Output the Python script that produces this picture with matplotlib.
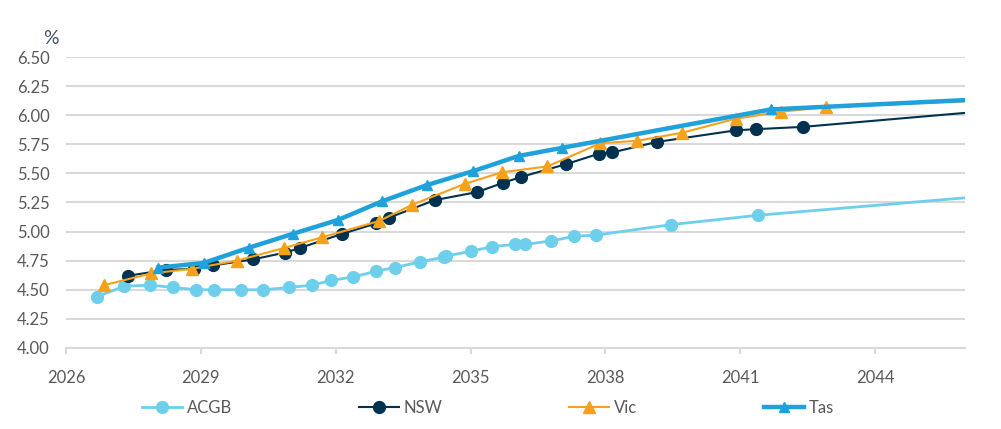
import matplotlib
matplotlib.use('Agg')
import matplotlib.pyplot as plt
from matplotlib.ticker import FuncFormatter

plt.rcParams['font.family'] = ['Lato', 'DejaVu Sans']

# Yield curve data (year, yield %). Last point of each series is the end of the curve (no marker)
acgb_x = [2026.69, 2027.29, 2027.87, 2028.38, 2028.90, 2029.30, 2029.90, 2030.39, 2030.97, 2031.48,
          2031.90, 2032.39, 2032.90, 2033.31, 2033.88, 2034.40, 2034.46, 2035.00, 2035.47, 2035.98,
          2036.22, 2036.80, 2037.31, 2037.80, 2039.47, 2041.39, 2046.0]
acgb_y = [4.44, 4.53, 4.54, 4.52, 4.50, 4.50, 4.50, 4.50, 4.52, 4.54,
          4.58, 4.61, 4.66, 4.69, 4.74, 4.78, 4.79, 4.83, 4.87, 4.89,
          4.89, 4.92, 4.96, 4.97, 5.06, 5.14, 5.29]

nsw_x = [2027.37, 2028.22, 2028.85, 2029.28, 2030.15, 2030.88, 2031.21, 2032.14, 2032.90, 2033.19,
         2034.20, 2035.15, 2035.73, 2036.13, 2037.13, 2037.86, 2038.15, 2039.14, 2040.90, 2041.34,
         2042.40, 2046.0]
nsw_y = [4.62, 4.67, 4.68, 4.71, 4.76, 4.82, 4.86, 4.98, 5.07, 5.12,
         5.27, 5.34, 5.42, 5.47, 5.58, 5.67, 5.68, 5.77, 5.87, 5.88,
         5.90, 6.02]

vic_x = [2026.85, 2027.89, 2028.80, 2029.80, 2030.86, 2031.69, 2032.96, 2033.70, 2034.87, 2035.70,
         2036.71, 2037.89, 2038.71, 2039.71, 2040.90, 2041.90, 2042.90, 2046.0]
vic_y = [4.54, 4.64, 4.68, 4.75, 4.86, 4.95, 5.09, 5.23, 5.41, 5.51,
         5.56, 5.76, 5.78, 5.85, 5.97, 6.03, 6.07, 6.12]

tas_x = [2028.05, 2029.06, 2030.06, 2031.04, 2032.05, 2033.03, 2034.03, 2035.06, 2036.07, 2037.04,
         2041.68, 2046.0]
tas_y = [4.69, 4.73, 4.86, 4.98, 5.10, 5.26, 5.40, 5.52, 5.65, 5.72,
         6.05, 6.13]

x_ticks = [2026, 2029, 2032, 2035, 2038, 2041, 2044]
y_ticks = [4.00, 4.25, 4.50, 4.75, 5.00, 5.25, 5.50, 5.75, 6.00, 6.25, 6.50]

grey_text = '#595959'

fig = plt.figure(figsize=(10.01, 4.29), dpi=100)
ax = fig.add_axes([0.066, 0.189, 0.898, 0.678])

# Plot each curve, markers on all but the end point
ax.plot(acgb_x, acgb_y, color='#6DCFEB', linewidth=2, marker='o', markersize=8.5,
        markevery=list(range(len(acgb_x) - 1)), label='ACGB', zorder=3)
ax.plot(nsw_x, nsw_y, color='#00324F', linewidth=1.5, marker='o', markersize=8.5,
        markevery=list(range(len(nsw_x) - 1)), label='NSW', zorder=4)
ax.plot(vic_x, vic_y, color='#F7A11A', linewidth=1.5, marker='^', markersize=9,
        markevery=list(range(len(vic_x) - 1)), label='Vic', zorder=5)
ax.plot(tas_x, tas_y, color='#1FA1DB', linewidth=3.2, marker='^', markersize=7,
        markevery=list(range(len(tas_x) - 1)), label='Tas', zorder=6)

# Axes limits and ticks
ax.set_xlim(2026, 2046)
ax.set_ylim(4.0, 6.5)
ax.set_xticks(x_ticks)
ax.set_yticks(y_ticks)
ax.yaxis.set_major_formatter(FuncFormatter(lambda y, _: f'{y:.2f}'))
ax.xaxis.set_major_formatter(FuncFormatter(lambda x, _: f'{x:.0f}'))

# Grid and spines
ax.grid(True, axis='y', color='#D9D9D9', linewidth=1.5)
ax.set_axisbelow(True)
for side in ['top', 'right', 'left']:
    ax.spines[side].set_visible(False)
ax.spines['bottom'].set_color('#D9D9D9')
ax.spines['bottom'].set_linewidth(1.5)
ax.tick_params(axis='y', length=0, pad=12, labelsize=12, labelcolor=grey_text)
ax.tick_params(axis='x', length=4, width=1.5, color='#D9D9D9', pad=12,
               labelsize=12, labelcolor=grey_text)

# Units label
fig.text(0.043, 0.897, '%', fontsize=14, color='#44546A', ha='left', va='baseline')

# Legend along the bottom
fig.legend(loc='center', bbox_to_anchor=(0.4875, 0.049), ncol=4, frameon=False,
           fontsize=12, labelcolor=grey_text, handlelength=2.4, handletextpad=0.3,
           columnspacing=7.6)

fig.savefig('out.png', dpi=100)
